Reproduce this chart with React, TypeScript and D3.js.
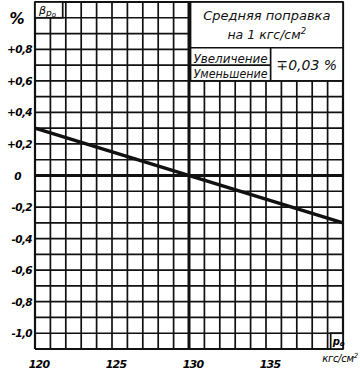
import * as d3 from "d3";
import { useEffect, useRef } from "react";

// pressure p0, kgf/cm2
const xTicks = [120, 125, 130, 135];
// correction beta, %
const yTicks = [0.8, 0.6, 0.4, 0.2, 0, -0.2, -0.4, -0.6, -0.8, -1.0];
const yTickLabels = ["+0,8", "+0,6", "+0,4", "+0,2", "0", "-0,2", "-0,4", "-0,6", "-0,8", "-1,0"];
// correction line
const lineP = [120, 140];
const lineBeta = [0.3, -0.3];

const App = () => {
  const width = 360;
  const height = 372;
  const margin = { top: 2, bottom: 23, right: 17, left: 35 };
  const svgRef = useRef(null);

  useEffect(() => {
    if (!svgRef.current) return;
    const svg = d3.select(svgRef.current);
    svg.selectAll("*").remove();

    const x = d3.scaleLinear([120, 140], [margin.left, width - margin.right]);
    const y = d3.scaleLinear([-1.1, 1.1], [height - margin.bottom, margin.top]);
    const font = "'DejaVu Sans', sans-serif";

    const grid = svg.append("g").attr("stroke", "#111");
    grid
      .selectAll("line.v")
      .data(d3.range(120, 141, 1))
      .join("line")
      .attr("x1", (d) => x(d))
      .attr("x2", (d) => x(d))
      .attr("y1", y(1.1))
      .attr("y2", y(-1.1))
      .attr("stroke-width", (d) => (d === 130 ? 3 : d === 120 || d === 140 ? 2.2 : 1.7));
    grid
      .selectAll("line.h")
      .data(d3.range(-11, 12, 1).map((k) => k / 10))
      .join("line")
      .attr("x1", x(120))
      .attr("x2", x(140))
      .attr("y1", (d) => y(d))
      .attr("y2", (d) => y(d))
      .attr("stroke-width", (d) => (Math.abs(d) < 1e-9 ? 3 : Math.abs(d) > 1.05 ? 2.2 : 1.7));

    // correction line
    const line = d3
      .line<number>()
      .x((d, i) => x(lineP[i]))
      .y((d) => y(d));
    svg
      .append("path")
      .attr("d", line(lineBeta))
      .attr("fill", "none")
      .attr("stroke", "#111")
      .attr("stroke-width", 3.5);

    // y tick labels
    svg
      .append("g")
      .selectAll("text")
      .data(yTicks)
      .join("text")
      .attr("x", (d) => (d === 0 ? 21 : 32))
      .attr("y", (d) => y(d) + 4)
      .attr("text-anchor", "end")
      .attr("font-family", font)
      .attr("font-style", "italic")
      .attr("font-weight", "bold")
      .attr("font-size", 10.5)
      .attr("letter-spacing", -0.6)
      .text((d, i) => yTickLabels[i]);

    svg
      .append("text")
      .attr("x", 17)
      .attr("y", y(1.0) + 6)
      .attr("text-anchor", "middle")
      .attr("font-family", font)
      .attr("font-style", "italic")
      .attr("font-weight", "bold")
      .attr("font-size", 15)
      .text("%");

    // x tick labels
    svg
      .append("g")
      .selectAll("text")
      .data(xTicks)
      .join("text")
      .attr("x", (d) => x(d) + 4)
      .attr("y", 368)
      .attr("text-anchor", "middle")
      .attr("font-family", font)
      .attr("font-style", "italic")
      .attr("font-weight", "bold")
      .attr("font-size", 11)
      .attr("letter-spacing", -0.8)
      .text((d) => d);

    const unit = svg
      .append("text")
      .attr("x", 340)
      .attr("y", 362)
      .attr("text-anchor", "middle")
      .attr("font-family", font)
      .attr("font-style", "italic")
      .attr("font-size", 10)
      .attr("letter-spacing", -0.3)
      .text("кгс/см");
    unit.append("tspan").attr("dy", -4).attr("font-size", 7).text("2");

    // beta box top-left
    svg
      .append("rect")
      .attr("x", x(120))
      .attr("y", y(1.1))
      .attr("width", x(121.8) - x(120))
      .attr("height", y(1.0) - y(1.1))
      .attr("fill", "white")
      .attr("stroke", "#111")
      .attr("stroke-width", 1.7);
    const beta = svg
      .append("text")
      .attr("x", x(120) + 4)
      .attr("y", y(1.0) - 4)
      .attr("font-family", font)
      .attr("font-style", "italic")
      .attr("font-size", 11)
      .text("β");
    beta.append("tspan").attr("dy", 2).attr("font-size", 9).text("p");
    beta.append("tspan").attr("dy", 1).attr("font-size", 7).text("o");

    // p0 box bottom-right
    svg
      .append("rect")
      .attr("x", x(139.2))
      .attr("y", y(-1.0))
      .attr("width", x(140) - x(139.2))
      .attr("height", y(-1.1) - y(-1.0))
      .attr("fill", "white")
      .attr("stroke", "#111")
      .attr("stroke-width", 1.7);
    const p0 = svg
      .append("text")
      .attr("x", x(139.2) + 2)
      .attr("y", y(-1.1) - 4)
      .attr("font-family", font)
      .attr("font-style", "italic")
      .attr("font-weight", "bold")
      .attr("font-size", 10)
      .text("p");
    p0.append("tspan").attr("dy", 1).attr("font-size", 7).text("o");

    // legend box top-right
    const bx0 = x(130.1);
    const bx1 = x(140);
    const bxMid = x(135.3);
    const lg = svg.append("g").attr("stroke", "#111").attr("stroke-width", 1.7);
    lg.append("rect")
      .attr("x", bx0)
      .attr("y", y(1.1))
      .attr("width", bx1 - bx0)
      .attr("height", y(0.6) - y(1.1))
      .attr("fill", "white");
    lg.append("line").attr("x1", bx0).attr("x2", bx1).attr("y1", y(0.81)).attr("y2", y(0.81));
    lg.append("line").attr("x1", bxMid).attr("x2", bxMid).attr("y1", y(0.81)).attr("y2", y(0.6));
    lg.append("line").attr("x1", bx0).attr("x2", bxMid).attr("y1", y(0.7)).attr("y2", y(0.7));

    const tx = svg
      .append("g")
      .attr("font-family", font)
      .attr("font-style", "italic")
      .attr("fill", "#111");
    tx.append("text")
      .attr("x", (bx0 + bx1) / 2)
      .attr("y", 20)
      .attr("text-anchor", "middle")
      .attr("font-size", 13)
      .text("Средняя поправка");
    const t2 = tx
      .append("text")
      .attr("x", (bx0 + bx1) / 2)
      .attr("y", 39)
      .attr("text-anchor", "middle")
      .attr("font-size", 12.5)
      .text("на 1 кгс/см");
    t2.append("tspan").attr("dy", -5).attr("font-size", 8.5).text("2");
    tx.append("text")
      .attr("x", bx0 + 3)
      .attr("y", y(0.7) - 2.5)
      .attr("font-size", 12)
      .attr("textLength", bxMid - bx0 - 6)
      .attr("lengthAdjust", "spacingAndGlyphs")
      .text("Увеличение");
    tx.append("text")
      .attr("x", bx0 + 3)
      .attr("y", y(0.6) - 2.5)
      .attr("font-size", 12)
      .attr("textLength", bxMid - bx0 - 6)
      .attr("lengthAdjust", "spacingAndGlyphs")
      .text("Уменьшение");
    tx.append("text")
      .attr("x", (bxMid + bx1) / 2)
      .attr("y", y(0.7) + 5)
      .attr("text-anchor", "middle")
      .attr("font-size", 14)
      .text("∓0,03 %");
  }, []);

  return (
    <svg
      width={width}
      height={height}
      ref={svgRef}
      style={{ position: "absolute", left: 0, top: 0, background: "white" }}
    ></svg>
  );
};

export default App;
